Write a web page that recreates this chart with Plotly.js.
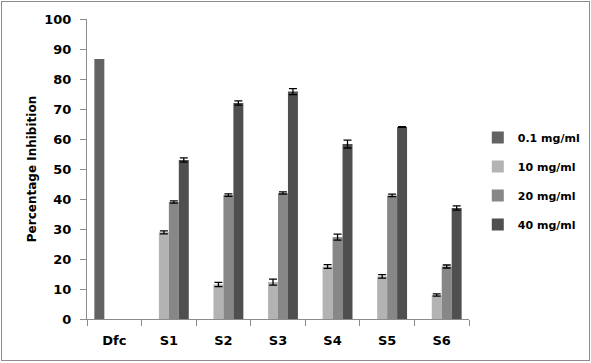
<!DOCTYPE html>
<html>
<head>
<meta charset="utf-8">
<script src="https://cdn.plot.ly/plotly-3.0.1.min.js"></script>
<style>
  html, body { margin: 0; padding: 0; background: #fff; }
  #chart { width: 591px; height: 363px; position: absolute; left: 0; top: 0; }
  #frame { position: absolute; left: 1px; top: 1px; width: 587px; height: 358px; border: 1px solid #8c8c8c; pointer-events: none; }
</style>
</head>
<body>
<div id="chart"></div>
<div id="frame"></div>
<script>
const categories = ["Dfc", "S1", "S2", "S3", "S4", "S5", "S6"];
const seriesNames = ["0.1 mg/ml", "10 mg/ml", "20 mg/ml", "40 mg/ml"];
const v01 = [86.7, null, null, null, null, null, null];
const v10 = [null, 28.9, 11.5, 12.3, 17.5, 14.2, 8.0];
const v20 = [null, 39.0, 41.3, 42.0, 27.3, 41.2, 17.5];
const v40 = [null, 53.0, 72.0, 75.8, 58.3, 64.0, 37.0];
const e01 = [0, 0, 0, 0, 0, 0, 0];
const e10 = [0, 0.5, 0.7, 1.0, 0.6, 0.6, 0.4];
const e20 = [0, 0.4, 0.4, 0.4, 1.0, 0.4, 0.5];
const e40 = [0, 0.7, 0.7, 1.0, 1.3, 0.1, 0.7];
const yTicks = [0, 10, 20, 30, 40, 50, 60, 70, 80, 90, 100];

const colors = ["#636363", "#b3b3b3", "#878787", "#4f4f4f"];
const values = [v01, v10, v20, v40];
const errs = [e01, e10, e20, e40];

const traces = values.map((v, i) => ({
  type: "bar",
  name: seriesNames[i],
  x: categories,
  y: v,
  marker: { color: colors[i], line: { width: 0 } },
  error_y: i === 0 ? { visible: false } : {
    type: "data", array: errs[i], visible: true,
    color: "#000", thickness: 1.3, width: 4
  },
  legendgroup: "g" + i
}));

const font = "DejaVu Sans, Verdana, sans-serif";
const layout = {
  width: 591, height: 363,
  margin: { l: 87, r: 122, t: 19, b: 44, autoexpand: false },
  paper_bgcolor: "#fff", plot_bgcolor: "#fff",
  barmode: "group", bargap: 0.27, bargroupgap: 0,
  showlegend: true,
  legend: {
    x: 1.023, y: 0.46, xanchor: "left", yanchor: "middle",
    font: { family: font, size: 11, color: "#000", weight: "bold" },
    tracegroupgap: 10, traceorder: "grouped",
    bgcolor: "rgba(0,0,0,0)", itemwidth: 30
  },
  xaxis: {
    type: "category",
    showline: true, linecolor: "#8c8c8c", linewidth: 1,
    ticks: "outside", tickson: "boundaries", ticklen: 6, tickcolor: "#8c8c8c",
    tickfont: { family: font, size: 13, color: "#000", weight: "bold" },
    ticklabelstandoff: 9,
    showgrid: false, zeroline: false, fixedrange: true
  },
  yaxis: {
    range: [0, 100],
    tickvals: yTicks, ticktext: yTicks.map(String),
    showline: true, linecolor: "#8c8c8c", linewidth: 1,
    ticks: "outside", ticklen: 6, tickcolor: "#8c8c8c",
    tickfont: { family: font, size: 13, color: "#000", weight: "bold" },
    ticklabelstandoff: 6,
    showgrid: false, zeroline: false, fixedrange: true,
    title: { text: "Percentage Inhibition", font: { family: font, size: 12, color: "#000", weight: "bold" }, standoff: 5 }
  }
};

Plotly.newPlot("chart", traces, layout, { displayModeBar: false, staticPlot: true });
</script>
</body>
</html>
